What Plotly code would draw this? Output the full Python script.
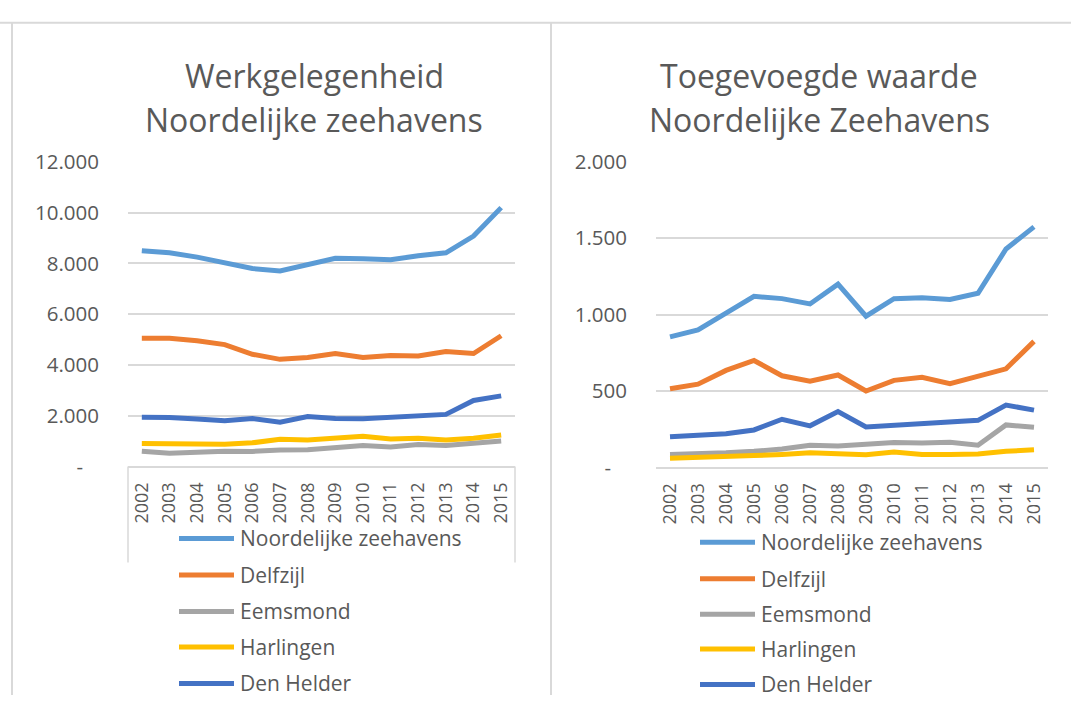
import plotly.graph_objects as go

W, H = 1071, 708

years = [str(y) for y in range(2002, 2016)]
series_names = ["Noordelijke zeehavens", "Delfzijl", "Eemsmond", "Harlingen", "Den Helder"]
colors = ["#5B9BD5", "#ED7D31", "#A5A5A5", "#FFC000", "#4472C4"]

# Werkgelegenheid (employment)
emp_noordelijk = [8500, 8420, 8250, 8050, 7800, 7700, 7950, 8200, 8180, 8150, 8300, 8420, 9080, 10200]
emp_delfzijl = [5050, 5050, 4950, 4800, 4420, 4220, 4290, 4450, 4290, 4370, 4350, 4530, 4450, 5150]
emp_eemsmond = [600, 520, 560, 600, 590, 650, 660, 760, 820, 770, 860, 820, 900, 1000]
emp_harlingen = [900, 900, 880, 870, 930, 1070, 1040, 1110, 1190, 1080, 1110, 1040, 1110, 1240]
emp_denhelder = [1940, 1930, 1870, 1800, 1890, 1740, 1970, 1890, 1880, 1940, 2000, 2050, 2600, 2780]

# Toegevoegde waarde (added value)
va_noordelijk = [855, 900, 1010, 1120, 1105, 1070, 1200, 990, 1105, 1110, 1100, 1140, 1430, 1575]
va_delfzijl = [515, 545, 635, 700, 600, 565, 605, 500, 570, 590, 548, 600, 645, 825]
va_eemsmond = [85, 88, 95, 105, 120, 145, 140, 152, 163, 160, 165, 145, 278, 262]
va_harlingen = [60, 63, 70, 77, 85, 95, 90, 82, 100, 85, 85, 88, 105, 115]
va_denhelder = [200, 208, 220, 245, 315, 272, 365, 265, 275, 285, 303, 308, 408, 375]

emp_ticks = [0, 2000, 4000, 6000, 8000, 10000, 12000]
emp_ticktext = ["-\u00a0\u00a0\u00a0", "2.000", "4.000", "6.000", "8.000", "10.000", "12.000"]
va_ticks = [0, 500, 1000, 1500, 2000]
va_ticktext = ["-\u00a0\u00a0\u00a0", "500", "1.000", "1.500", "2.000"]

titles_left = ["Werkgelegenheid", "Noordelijke zeehavens"]
titles_right = ["Toegevoegde waarde", "Noordelijke Zeehavens"]

FONT = "Open Sans"
TXT = "#595959"
GRID = "#D9D9D9"


def X(px):
    return px / W


def Y(py):
    return 1 - py / H


fig = go.Figure()
emp = [emp_noordelijk, emp_delfzijl, emp_eemsmond, emp_harlingen, emp_denhelder]
va = [va_noordelijk, va_delfzijl, va_eemsmond, va_harlingen, va_denhelder]
for name, c, vals in zip(series_names, colors, emp):
    fig.add_trace(go.Scatter(x=years, y=vals, name=name, mode="lines",
                             line=dict(color=c, width=5), xaxis="x", yaxis="y",
                             showlegend=False))
for name, c, vals in zip(series_names, colors, va):
    fig.add_trace(go.Scatter(x=years, y=vals, name=name, mode="lines",
                             line=dict(color=c, width=5), xaxis="x2", yaxis="y2",
                             showlegend=False))

xcommon = dict(type="category", range=[-0.5, 13.5], tickangle=-90, showgrid=False,
               showline=True, linecolor=GRID, linewidth=1.5, ticks="",
               tickfont=dict(family=FONT, size=18, color=TXT), ticklabelstandoff=7)
ycommon = dict(showgrid=True, gridcolor=GRID, gridwidth=1.5, zeroline=False, showline=False,
               ticks="", tickfont=dict(family=FONT, size=20.5, color=TXT), ticklabelstandoff=28)

fig.update_layout(
    width=W, height=H, autosize=False,
    margin=dict(l=0, r=0, t=0, b=0),
    paper_bgcolor="white", plot_bgcolor="white",
    xaxis=dict(domain=[X(128), X(515)], anchor="y", **xcommon),
    yaxis=dict(domain=[Y(470), Y(153)], anchor="x", range=[0, 12000],
               tickvals=emp_ticks, ticktext=emp_ticktext, **ycommon),
    xaxis2=dict(domain=[X(656), X(1048)], anchor="y2", **xcommon),
    yaxis2=dict(domain=[Y(471), Y(153)], anchor="x2", range=[0, 2000],
                tickvals=va_ticks, ticktext=va_ticktext, **ycommon),
)

shapes = []
line_gray = dict(color=GRID, width=2)
# page / cell borders
shapes.append(dict(type="line", xref="paper", yref="paper", x0=0, x1=1, y0=Y(8), y1=Y(8), line=line_gray))
shapes.append(dict(type="line", xref="paper", yref="paper", x0=X(12), x1=X(12), y0=Y(8), y1=0, line=line_gray))
shapes.append(dict(type="line", xref="paper", yref="paper", x0=X(551), x1=X(551), y0=Y(8), y1=0, line=line_gray))
# left category-axis box sides
for px in (128, 515):
    shapes.append(dict(type="line", xref="paper", yref="paper", x0=X(px), x1=X(px),
                       y0=Y(470), y1=Y(570), line=dict(color=GRID, width=1.5)))

annotations = []
# titles
for i, t in enumerate(titles_left):
    annotations.append(dict(text=t, x=X(314), y=Y([63, 109][i]), xref="paper", yref="paper",
                            showarrow=False, xanchor="center", yanchor="middle",
                            font=dict(family=FONT, size=32, color=TXT)))
for i, t in enumerate(titles_right):
    annotations.append(dict(text=t, x=X(819), y=Y([63, 109][i]), xref="paper", yref="paper",
                            showarrow=False, xanchor="center", yanchor="middle",
                            font=dict(family=FONT, size=32, color=TXT)))

# legends (drawn manually)
legend_specs = [
    (179, 234, 238, [545, 583, 621, 658, 696]),
    (700, 755, 759, [549, 587, 624, 660, 697]),
]
for lx0, lx1, tx, ys in legend_specs:
    for name, c, py in zip(series_names, colors, ys):
        shapes.append(dict(type="line", xref="paper", yref="paper", x0=X(lx0), x1=X(lx1),
                           y0=Y(py), y1=Y(py), line=dict(color=c, width=5)))
        annotations.append(dict(text=name, x=X(tx), y=Y(py), xref="paper", yref="paper",
                                showarrow=False, xanchor="left", yanchor="middle",
                                font=dict(family=FONT, size=21, color=TXT)))

fig.update_layout(shapes=shapes, annotations=annotations)
fig.write_html("out.html", config={"displayModeBar": False},
               post_script="document.body.style.margin='0';document.body.style.overflow='hidden';")
